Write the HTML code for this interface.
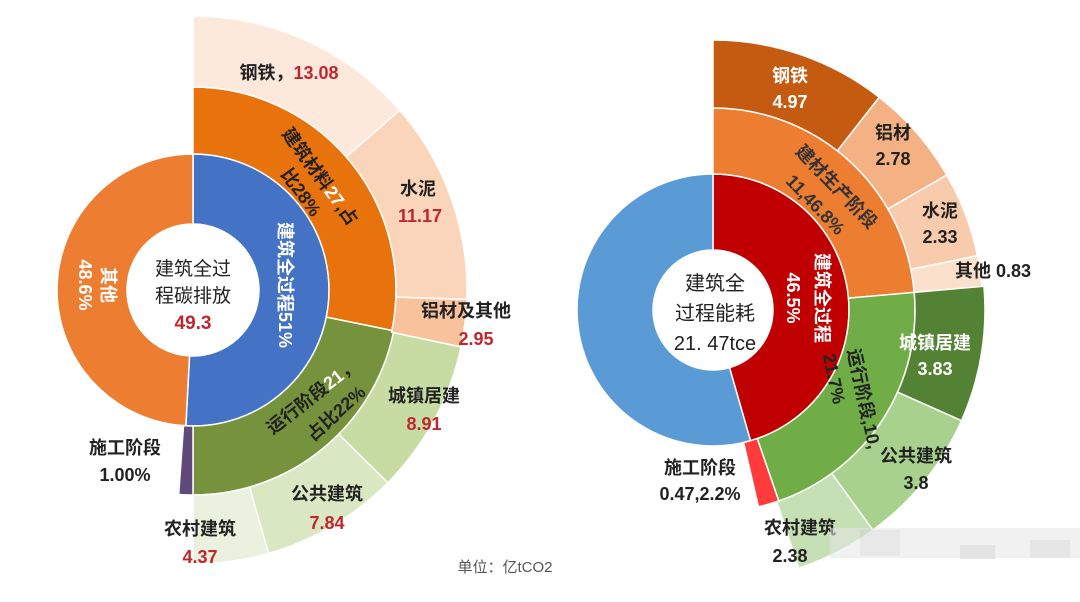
<!DOCTYPE html>
<html><head><meta charset="utf-8">
<style>
html,body{margin:0;padding:0;background:#fff;}
svg{display:block;font-family:"Liberation Sans","Noto Sans CJK SC",sans-serif;font-weight:bold;}
</style></head>
<body>
<svg id="s" width="1080" height="602" viewBox="0 0 1080 602" xmlns="http://www.w3.org/2000/svg">
<g id="L" transform="translate(193,290)"></g>
<g id="R" transform="translate(713,310)"></g>

<!-- left chart text -->
<g font-size="18" text-anchor="middle">
<text x="289" y="79" fill="#222">钢铁，<tspan fill="#c0262d">13.08</tspan></text>
<text x="418" y="195" fill="#222">水泥</text>
<text x="420" y="222" fill="#c0262d">11.17</text>
<text x="466" y="317" fill="#222">铝材及其他</text>
<text x="476" y="345" fill="#c0262d">2.95</text>
<text x="424" y="402" fill="#222">城镇居建</text>
<text x="424" y="430" fill="#c0262d">8.91</text>
<text x="327" y="500" fill="#222">公共建筑</text>
<text x="327" y="529" fill="#c0262d">7.84</text>
<text x="200" y="535" fill="#222">农村建筑</text>
<text x="200" y="563" fill="#c0262d">4.37</text>
<text x="125" y="454" fill="#222">施工阶段</text>
<text x="125" y="481" fill="#222">1.00%</text>
<g font-size="19" font-weight="normal">
<text x="193" y="275" fill="#222">建筑全过</text>
<text x="193" y="302" fill="#222">程碳排放</text>
<text x="193" y="329" fill="#c0262d" font-weight="bold">49.3</text>
</g>
<text transform="translate(279,285) rotate(90)" fill="#fff">建筑全过程51%</text>
<text transform="translate(102,285) rotate(90)" fill="#fff">其他</text>
<text transform="translate(79,285) rotate(90)" fill="#fff">48.6%</text>
<text transform="translate(315,180) rotate(54)" fill="#222">建筑材料<tspan fill="#fff">27</tspan>,占</text>
<text transform="translate(296,196) rotate(54)" fill="#222">比28%</text>
<text transform="translate(316,401) rotate(-38)" fill="#222">运行阶段<tspan fill="#fff">21</tspan>，</text>
<text transform="translate(340,418) rotate(-42)" fill="#222">占比22%</text>
</g>

<!-- right chart text -->
<g font-size="18" text-anchor="middle">
<text x="790" y="82" fill="#fff">钢铁</text>
<text x="790" y="108" fill="#fff">4.97</text>
<text x="893" y="139" fill="#222">铝材</text>
<text x="893" y="165" fill="#222">2.78</text>
<text x="940" y="217" fill="#222">水泥</text>
<text x="940" y="243" fill="#222">2.33</text>
<text x="993" y="277" fill="#222">其他 0.83</text>
<text x="935" y="349" fill="#fff">城镇居建</text>
<text x="935" y="375" fill="#fff">3.83</text>
<text x="916" y="462" fill="#222">公共建筑</text>
<text x="916" y="489" fill="#222">3.8</text>
<text x="800" y="534" fill="#222">农村建筑</text>
<text x="790" y="562" fill="#222">2.38</text>
<text x="700" y="474" fill="#222">施工阶段</text>
<text x="700" y="500" fill="#222">0.47,2.2%</text>
<g font-size="20" font-weight="normal" fill="#222">
<text x="715" y="290">建筑全</text>
<text x="715" y="320">过程能耗</text>
<text x="715" y="350">21. 47tce</text>
</g>
<text transform="translate(816,298) rotate(90)" fill="#fff">建筑全过程</text>
<text transform="translate(787,298) rotate(90)" fill="#fff">46.5%</text>
<text transform="translate(832,191) rotate(46)" fill="#333">建材生产阶段</text>
<text transform="translate(811,209) rotate(46)" fill="#333">11,46.8%</text>
<text transform="translate(858,400) rotate(78)" fill="#222">运行阶段,10,</text>
<text transform="translate(828,380) rotate(78)" fill="#222">21.7%</text>
</g>

<text x="505" y="572" font-size="15" font-weight="normal" fill="#555" text-anchor="middle">单位：亿tCO2</text>

<!-- blurred watermark -->
<g opacity="0.55">
<rect x="830" y="528" width="250" height="30" fill="#e6e6e6"/>
<rect x="860" y="530" width="40" height="26" fill="#d6d6d6"/>
<rect x="960" y="545" width="35" height="14" fill="#cfcfcf"/>
<rect x="1030" y="540" width="40" height="18" fill="#d2d2d2"/>
</g>
</svg>
<script>
function sec(g,r0,r1,a0,a1,c){
 var d2r=Math.PI/180,A0=a0*d2r,A1=a1*d2r;
 function p(r,a){return (r*Math.sin(a)).toFixed(2)+","+(-r*Math.cos(a)).toFixed(2);}
 var lg=(a1-a0)>180?1:0;
 var d="M"+p(r1,A0)+"A"+r1+","+r1+" 0 "+lg+" 1 "+p(r1,A1)+"L"+p(r0,A1)+"A"+r0+","+r0+" 0 "+lg+" 0 "+p(r0,A0)+"Z";
 var e=document.createElementNS("http://www.w3.org/2000/svg","path");
 e.setAttribute("d",d);e.setAttribute("fill",c);e.setAttribute("stroke","#fff");e.setAttribute("stroke-width","1.5");
 var el=document.getElementById(g);el.insertBefore(e,null);
}
// left
sec("L",66,136,0,183,"#4472c4");
sec("L",66,136,183,360,"#ed7d31");
sec("L",136,203,0,101.5,"#e8720c");
sec("L",136,205,101.5,180,"#76923c");
sec("L",136,205,180,184,"#604a7b");
sec("L",203,274,0,49,"#fde9dc");
sec("L",203,274,49,92,"#fbd5b9");
sec("L",203,274,92,102,"#f8c39c");
sec("L",205,274,102,134.7,"#c6dca3");
sec("L",205,274,134.7,164,"#d9e8c3");
sec("L",205,274,164,180,"#eaf1df");
// right
sec("R",60,136,0,164,"#c00000");
sec("R",60,136,164,360,"#5b9bd5");
sec("R",136,202,0,85,"#ed7d31");
sec("R",136,202,85,161,"#70ad47");
sec("R",136,202,161,167,"#ff3b3b");
sec("R",202,270,0,38,"#c55a11");
sec("R",202,270,38,60,"#f4b183");
sec("R",202,270,60,78.4,"#f8cbad");
sec("R",202,270,78.4,85,"#fbe0cc");
sec("R",202,272,85,114,"#548235");
sec("R",202,272,114,144,"#a9d18e");
sec("R",202,272,144,161.6,"#c5e0b4");
</script>
</body></html>
